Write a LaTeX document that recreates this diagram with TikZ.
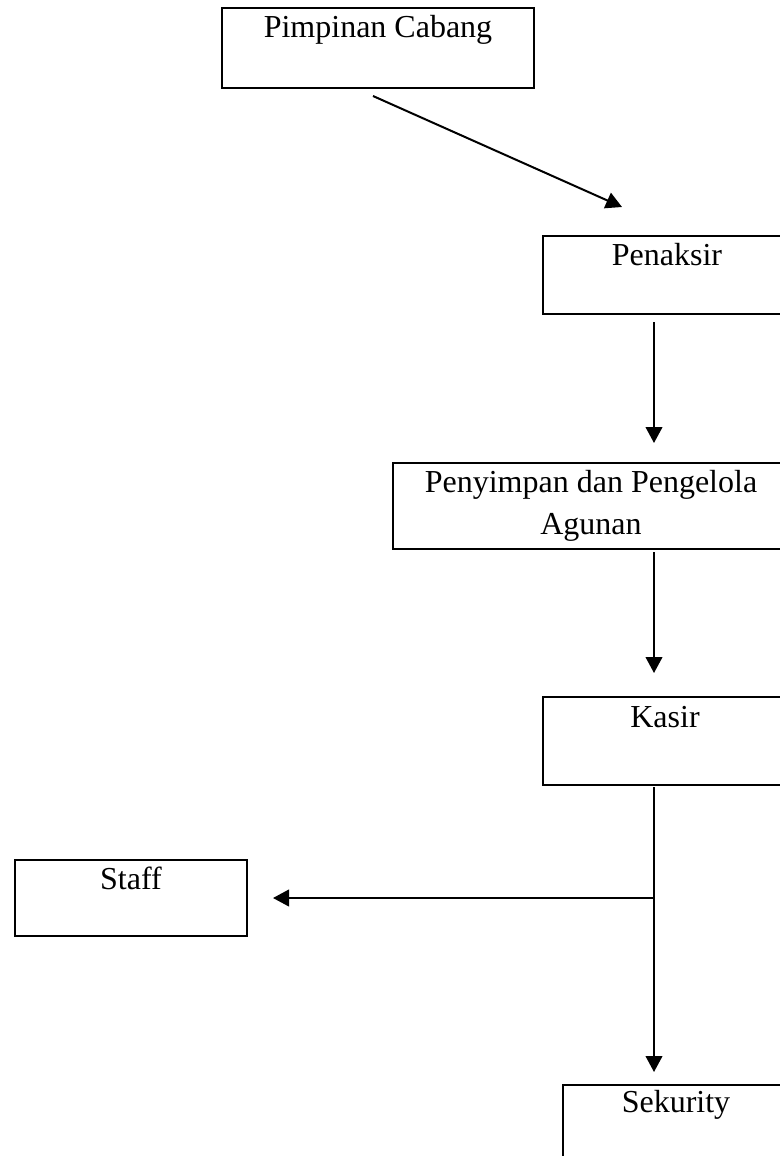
\documentclass[tikz,border=0pt]{standalone}
\usepackage{fontspec}
\setmainfont{Liberation Serif}
\usetikzlibrary{arrows.meta,calc}
\begin{document}
\begin{tikzpicture}[x=0.75pt,y=-0.75pt,
  box/.style={draw,line width=1.6pt,rectangle,inner sep=0pt,outer sep=0pt,anchor=north west},
  lbl/.style={anchor=base,inner sep=0pt,font=\fontsize{24}{31.5}\selectfont,align=center},
  conn/.style={line width=1.5pt,-{Triangle[length=12pt,width=12.5pt]}}]
\useasboundingbox (0,0) rectangle (780,1156);
\clip (0,0) rectangle (780,1156);

\node[box,minimum width=234pt,minimum height=60pt] (pc) at (222,8) {};
\node[box,minimum width=186pt,minimum height=58.5pt] (pn) at (543,236) {};
\node[box,minimum width=297pt,minimum height=64.5pt] (pp) at (393,463) {};
\node[box,minimum width=183pt,minimum height=66pt] (ks) at (543,697) {};
\node[box,minimum width=174pt,minimum height=57pt] (st) at (15,860) {};
\node[box,minimum width=171pt,minimum height=63pt] (sk) at (563,1085) {};

\node[lbl] (pct) at (378,38) {Pimpinan Cabang};
\node[lbl] (pnt) at (667,265) {Penaksir};
\node[lbl] (ppt) at (591,534) {Penyimpan dan Pengelola\\Agunan};
\node[lbl] (kst) at (665,727) {Kasir};
\node[lbl] (stt) at (131,889) {Staff};
\node[lbl] (skt) at (676,1112) {Sekurity};

\coordinate (a1) at ($(pc.south west)+(151,8)$);
\coordinate (a2) at ($(pn.north west)+(79,-29)$);
\draw[conn] (a1) -- (a2);
\draw[conn] ($(pn.south west)+(111,8)$) -- ($(pp.north west)+(261,-20)$);
\draw[conn] ($(pp.south west)+(261,3)$) -- ($(ks.north west)+(111,-24)$);
\draw[conn] ($(ks.south west)+(111,2)$) -- ($(sk.north west)+(91,-13)$);
\coordinate (j) at ($(ks.south west)+(111,113)$);
\draw[conn] (j) -- ($(st.east)+(26,0)$);
\end{tikzpicture}
\end{document}
